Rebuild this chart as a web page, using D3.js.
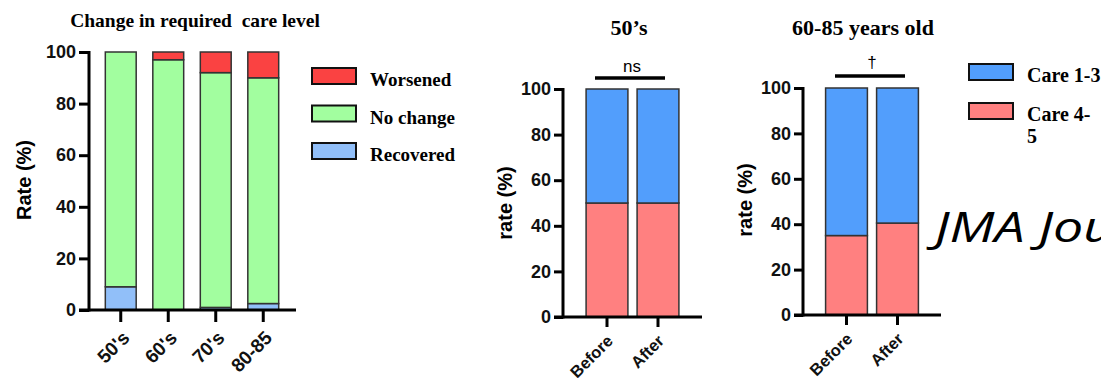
<!DOCTYPE html>
<html>
<head>
<meta charset="utf-8">
<script src="https://cdn.jsdelivr.net/npm/d3@7"></script>
<style>
  body { margin: 0; background: #fff; }
  svg { display: block; }
  .serif { font-family: "Liberation Serif", "Times New Roman", serif; font-weight: bold; }
  .sans { font-family: "Liberation Sans", Arial, sans-serif; font-weight: bold; }
</style>
</head>
<body>
<svg id="chart" width="1101" height="378"></svg>
<script>
// left panel: change in required care level by age group
const ageGroups = ["50's", "60's", "70's", "80-85"];
const recovered = [9, 0, 1, 2.5];
const noChange = [91, 97, 91, 87.5];
const worsened = [0, 3, 8, 10];
const levelKeys = ["Recovered", "No change", "Worsened"];

// right panels: care level before / after
const periods = ["Before", "After"];
const care45_50s = [50, 50];
const care13_50s = [50, 50];
const care45_6085 = [35, 40.5];
const care13_6085 = [65, 59.5];
const careKeys = ["Care 4-5", "Care 1-3"];

const yTicks = [0, 20, 40, 60, 80, 100];

const svg = d3.select("#chart");

function panel(args) {
  const g = svg.append("g");

  const y = d3.scaleLinear().domain([0, 100]).range([args.y0, args.y1]);
  const x = d3.scaleBand()
    .domain(args.cats)
    .range(args.xr)
    .paddingInner(args.pad)
    .paddingOuter(args.pad / 2);

  const rows = args.cats.map((c, i) => {
    const r = {cat: c};
    args.keys.forEach((k, j) => { r[k] = args.series[j][i]; });
    return r;
  });
  const stacked = d3.stack().keys(args.keys)(rows);

  stacked.forEach((layer, j) => {
    g.append("g")
      .selectAll("rect")
      .data(layer)
      .enter()
      .append("rect")
      .attr("x", d => x(d.data.cat))
      .attr("width", x.bandwidth())
      .attr("y", d => y(d[1]))
      .attr("height", d => y(d[0]) - y(d[1]))
      .attr("fill", args.colors[j])
      .attr("stroke", "#333")
      .attr("stroke-width", 1.5);
  });

  // axes
  const ya = g.append("g")
    .attr("transform", "translate(" + args.axisX + ",0)")
    .call(d3.axisLeft(y).tickValues(yTicks).tickSize(args.ytick).tickSizeOuter(0).tickPadding(3));
  ya.select(".domain").remove();
  ya.selectAll("line").attr("stroke", "#000").attr("stroke-width", 3);
  ya.selectAll("text")
    .attr("class", "sans")
    .attr("font-size", 18)
    .attr("fill", "#111");
  g.append("line")
    .attr("x1", args.axisX).attr("x2", args.axisX)
    .attr("y1", y(100) - 1).attr("y2", y(0) + 1.5)
    .attr("stroke", "#000").attr("stroke-width", 3);

  const xa = g.append("g")
    .attr("transform", "translate(0," + y(0) + ")")
    .call(d3.axisBottom(x).tickSize(args.xtick).tickSizeOuter(0));
  xa.select(".domain").remove();
  xa.selectAll("line").attr("stroke", "#000").attr("stroke-width", 3);
  xa.selectAll("text")
    .attr("class", "sans")
    .attr("font-size", args.xfont)
    .attr("fill", "#111")
    .attr("text-anchor", "end")
    .attr("y", 0)
    .attr("dy", 0)
    .attr("transform", "translate(" + args.xlab[0] + "," + args.xlab[1] + ") rotate(-45)");
  g.append("line")
    .attr("x1", args.axisX - args.ytick).attr("x2", args.axisEnd)
    .attr("y1", y(0)).attr("y2", y(0))
    .attr("stroke", "#000").attr("stroke-width", 3);

  // y label
  g.append("text")
    .attr("class", "sans")
    .attr("font-size", 20)
    .attr("text-anchor", "middle")
    .attr("transform", "translate(" + args.ylab[0] + "," + args.ylab[1] + ") rotate(-90)")
    .text(args.ylabel);

  // title
  g.append("text")
    .attr("class", "serif")
    .attr("font-size", args.tfont)
    .attr("text-anchor", "middle")
    .style("white-space", "pre")
    .attr("x", args.title[0]).attr("y", args.title[1])
    .text(args.titleText);

  // significance bar
  if (args.sig) {
    g.append("line")
      .attr("x1", args.sig.x1).attr("x2", args.sig.x2)
      .attr("y1", args.sig.y).attr("y2", args.sig.y)
      .attr("stroke", "#000").attr("stroke-width", 3.5);
    g.append("text")
      .attr("font-family", "Liberation Sans, Arial, sans-serif")
      .attr("font-size", 17)
      .attr("fill", "#000")
      .attr("text-anchor", "middle")
      .attr("x", args.sig.tx).attr("y", args.sig.ty)
      .text(args.sig.label);
  }

  // legend
  if (args.legend) {
    const lg = g.append("g");
    args.legend.items.forEach((it, i) => {
      const yy = args.legend.y + i * args.legend.step;
      lg.append("rect")
        .attr("x", args.legend.x).attr("y", yy)
        .attr("width", 44).attr("height", 16)
        .attr("fill", it.color)
        .attr("stroke", "#111").attr("stroke-width", 2);
      it.lines.forEach((t, k) => {
        lg.append("text")
          .attr("class", "serif")
          .attr("font-size", args.legend.font)
          .attr("x", args.legend.x + 58)
          .attr("y", yy + 18 + k * 22)
          .text(t);
      });
    });
  }
}

panel({
  cats: ageGroups,
  keys: levelKeys,
  series: [recovered, noChange, worsened],
  colors: ["#91bff9", "#a2fe9f", "#fa4242"],
  y0: 310, y1: 52,
  xr: [97, 287], pad: 0.35,
  axisX: 89, axisEnd: 296, ytick: 10, xtick: 12, xfont: 19,
  xlab: [10, 29],
  ylab: [31, 180], ylabel: "Rate (%)",
  title: [195, 27], tfont: 19.5, titleText: "Change in required  care level",
  legend: {
    x: 312, y: 68, step: 37.5, font: 19,
    items: [
      {color: "#fa4242", lines: ["Worsened"]},
      {color: "#a2fe9f", lines: ["No change"]},
      {color: "#91bff9", lines: ["Recovered"]}
    ]
  }
});

panel({
  cats: periods,
  keys: careKeys,
  series: [care45_50s, care13_50s],
  colors: ["#ff8080", "#529efc"],
  y0: 317, y1: 89,
  xr: [581.5, 683.5], pad: 0.18,
  axisX: 563, axisEnd: 702, ytick: 9, xtick: 10, xfont: 16.5,
  xlab: [7, 25],
  ylab: [512, 203], ylabel: "rate (%)",
  title: [629, 35], tfont: 22, titleText: "50\u2019s",
  sig: {x1: 595, x2: 665, y: 78, tx: 632, ty: 72, label: "ns"}
});

panel({
  cats: periods,
  keys: careKeys,
  series: [care45_6085, care13_6085],
  colors: ["#ff8080", "#529efc"],
  y0: 315, y1: 88,
  xr: [821, 923], pad: 0.18,
  axisX: 803, axisEnd: 941, ytick: 9, xtick: 10, xfont: 16.5,
  xlab: [7, 25],
  ylab: [752, 200], ylabel: "rate (%)",
  title: [863, 35], tfont: 22, titleText: "60-85 years old",
  sig: {x1: 835, x2: 905, y: 76, tx: 872, ty: 68, label: "\u2020"},
  legend: {
    x: 969, y: 64, step: 39, font: 20,
    items: [
      {color: "#529efc", lines: ["Care 1-3"]},
      {color: "#ff8080", lines: ["Care 4-", "5"]}
    ]
  }
});

// watermark (source image is stretched horizontally)
svg.append("text")
  .attr("transform", "translate(935,242) scale(1.28,1)")
  .attr("font-family", "'Open Sans', Lato, sans-serif")
  .attr("font-style", "italic")
  .attr("font-size", 42)
  .attr("fill", "#000")
  .text("JMA Journal");
</script>
</body>
</html>
